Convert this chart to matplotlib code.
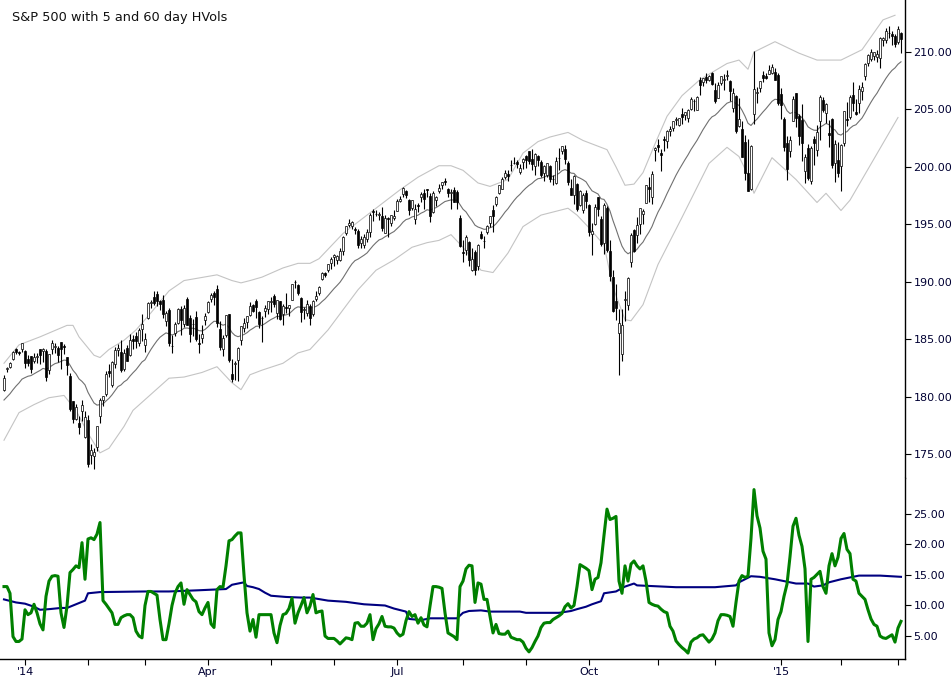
import matplotlib
matplotlib.use("Agg")
import matplotlib.pyplot as plt
import numpy as np
import pandas as pd

# trading days shown (Dec 20 2013 .. Mar 3 2015)
holidays = ["2013-12-25", "2014-01-01", "2014-01-20", "2014-02-17", "2014-04-18",
            "2014-05-26", "2014-07-04", "2014-09-01", "2014-11-27", "2014-12-25",
            "2015-01-01", "2015-01-19", "2015-02-16"]
dates = pd.bdate_range("2013-12-20", "2015-03-03", freq="C", holidays=holidays)

# daily OHLC, one line per month
opens = [
    180.6, 182.4, 182.6, 183.3, 184.1, 183.9, 184.1,
    183.98, 183.23, 183.49, 183.09, 183.45, 184.10, 183.95, 183.96, 182.31, 184.10, 184.28, 184.26, 184.71, 184.37, 183.41, 181.81, 179.61, 178.05, 177.69, 178.76, 176.44,
    177.97, 174.94, 174.79, 175.60, 178.31, 179.70, 180.20, 182.21, 180.97, 182.86, 184.09, 183.90, 182.38, 184.25, 183.65, 185.05, 185.27, 184.68, 185.91,
    184.49, 186.84, 188.18, 188.69, 188.92, 188.30, 188.40, 186.59, 187.52, 184.39, 185.51, 186.44, 187.60, 186.28, 188.51, 186.85, 186.29, 186.90, 184.65, 185.14, 186.67,
    187.36, 188.52, 189.01, 189.38, 185.90, 184.12, 185.39, 187.16, 181.96, 182.85, 183.21, 184.93, 185.97, 186.47, 187.14, 187.96, 188.32, 187.37, 186.82, 187.48, 187.62,
    188.22, 188.79, 187.26, 188.30, 187.20, 187.79, 187.71, 188.45, 189.94, 189.73, 188.60, 187.51, 187.24, 187.89, 187.15, 188.52, 188.98, 190.26, 190.73, 191.04, 191.62,
    192.14, 191.85, 191.93, 192.68, 194.27, 194.94, 194.87, 194.60, 194.43, 193.36, 193.18, 193.74, 194.34, 196.20, 195.89, 195.84, 195.72, 194.28, 195.52, 195.11, 195.59,
    196.20, 197.05, 197.63, 197.94, 197.15, 196.45, 195.43, 196.63, 197.37, 197.74, 198.10, 197.46, 196.09, 197.12, 197.91, 198.38, 198.78, 198.05, 197.74, 198.02, 197.84, 195.51,
    192.58, 192.76, 193.42, 191.02, 192.61, 191.40, 194.13, 193.56, 194.29, 195.11, 196.24, 196.77, 197.76, 198.10, 199.09, 199.34, 200.14, 200.33, 200.43, 199.59, 200.45,
    200.97, 201.38, 200.66, 200.11, 200.97, 200.45, 199.43, 199.27, 200.10, 198.97, 198.61, 200.77, 201.36, 201.52, 200.35, 198.16, 197.52, 198.52, 196.71, 196.21, 197.74,
    196.70, 194.19, 195.06, 197.36, 195.47, 193.35, 196.39, 192.68, 190.40, 188.33, 185.57, 183.69, 188.40, 187.96, 191.68, 194.48, 194.11, 195.02, 195.89, 196.89, 198.24, 197.39, 201.47,
    201.92, 201.24, 202.45, 202.22, 203.10, 203.38, 204.04, 203.62, 204.60, 204.48, 204.22, 205.00, 205.76, 204.97, 207.59, 207.43, 207.85, 207.58, 208.15,
    206.73, 206.00, 207.32, 207.54, 207.87, 207.50, 205.11, 206.19, 203.56, 203.29, 202.18, 199.43, 198.08, 204.60, 206.45, 206.88, 208.01, 207.88, 208.12, 208.17, 208.23, 207.99,
    206.38, 204.17, 202.09, 201.42, 204.01, 206.40, 204.41, 204.12, 199.65, 201.63, 198.77, 202.40, 201.50, 203.99, 205.79, 204.71, 202.97, 204.17, 200.38, 200.57,
    200.05, 202.05, 204.13, 204.33, 206.27, 204.80, 205.60, 206.59, 207.90, 209.08, 209.40, 209.64, 209.58, 209.48, 211.03, 211.02, 211.66, 211.60, 211.38, 210.83, 211.69,
]
highs = [
    181.9, 182.6, 183.0, 184.0, 184.2, 184.0, 184.7,
    184.07, 183.60, 183.56, 183.79, 183.83, 184.13, 184.22, 184.18, 183.72, 184.94, 184.66, 184.44, 184.77, 184.58, 183.41, 182.05, 179.65, 179.31, 178.28, 179.73, 178.71,
    178.37, 175.84, 175.56, 177.48, 179.87, 180.07, 182.19, 182.83, 183.13, 184.29, 184.56, 184.95, 184.13, 184.48, 185.44, 185.38, 185.60, 185.96, 187.16,
    185.51, 188.20, 188.45, 189.18, 189.23, 188.43, 188.81, 187.43, 187.67, 185.33, 186.52, 187.75, 187.90, 188.00, 188.70, 187.12, 186.76, 187.44, 185.45, 186.27, 187.31,
    188.30, 189.02, 189.22, 189.70, 186.59, 185.32, 187.12, 187.20, 183.23, 183.14, 184.35, 186.15, 186.85, 187.04, 188.20, 188.04, 188.52, 187.47, 187.00, 187.96, 188.34,
    188.68, 188.97, 188.44, 188.36, 188.05, 189.00, 188.01, 189.81, 190.11, 189.79, 188.66, 187.83, 188.41, 188.09, 188.42, 189.20, 189.60, 190.81, 190.86, 191.58, 192.15,
    192.40, 192.31, 192.91, 194.00, 194.89, 195.43, 195.26, 194.78, 194.59, 193.94, 194.16, 194.62, 196.00, 196.30, 196.24, 196.03, 196.53, 195.79, 195.60, 195.81, 196.25,
    197.24, 197.45, 198.29, 198.01, 197.22, 197.15, 196.81, 196.88, 197.81, 198.10, 198.11, 197.70, 197.87, 197.43, 198.50, 198.71, 198.99, 198.18, 198.10, 198.21, 198.00, 195.80,
    193.60, 194.07, 193.52, 192.90, 192.73, 193.30, 194.43, 193.97, 194.96, 195.76, 196.71, 197.45, 198.39, 199.16, 199.76, 199.69, 200.59, 200.82, 200.57, 200.27, 200.73,
    201.00, 201.41, 201.56, 201.24, 201.01, 200.60, 200.20, 200.33, 200.13, 199.32, 200.84, 201.68, 201.85, 201.90, 200.48, 198.97, 199.25, 198.56, 198.02, 197.70, 198.01,
    196.75, 195.07, 196.74, 197.42, 195.74, 196.88, 196.59, 193.64, 191.00, 189.76, 187.64, 187.59, 189.21, 190.43, 194.20, 194.58, 195.64, 196.44, 196.30, 198.46, 199.09, 199.68, 201.75,
    202.45, 201.59, 202.65, 203.20, 203.58, 204.03, 204.31, 204.25, 205.10, 204.82, 205.06, 206.07, 205.88, 206.15, 207.86, 207.77, 208.14, 208.04, 208.26,
    207.29, 207.36, 207.93, 208.11, 208.47, 207.59, 206.90, 206.29, 206.04, 203.97, 202.78, 202.43, 201.90, 210.10, 206.93, 207.47, 208.33, 208.19, 208.85, 208.97, 208.61, 208.19,
    206.88, 204.37, 202.72, 202.72, 206.16, 206.42, 204.60, 205.48, 201.10, 202.01, 201.82, 202.72, 203.66, 206.26, 206.10, 205.56, 204.12, 204.29, 202.30, 202.17,
    202.03, 204.85, 205.62, 206.30, 207.35, 205.89, 207.12, 207.37, 209.04, 209.84, 210.28, 210.04, 210.20, 211.33, 211.35, 212.05, 212.24, 211.86, 211.58, 212.24, 211.77,
]
lows = [
    180.5, 182.1, 182.5, 183.2, 183.7, 183.6, 183.9,
    182.48, 182.63, 182.08, 182.95, 182.89, 182.80, 183.01, 181.34, 181.99, 183.73, 183.83, 183.00, 182.36, 183.68, 181.84, 178.71, 177.66, 177.96, 176.77, 177.90, 176.36,
    173.83, 174.11, 173.71, 175.22, 177.73, 179.21, 180.04, 181.71, 180.85, 182.48, 183.51, 182.15, 182.22, 183.08, 183.50, 184.16, 184.23, 184.37, 184.84,
    183.86, 186.78, 187.73, 188.00, 187.87, 187.52, 186.82, 186.13, 184.36, 183.77, 185.29, 186.34, 185.38, 186.04, 186.20, 184.73, 185.25, 184.87, 183.83, 184.70, 186.27,
    187.32, 188.22, 187.94, 186.05, 184.04, 183.56, 185.17, 182.98, 181.31, 181.44, 181.34, 184.48, 185.64, 185.93, 187.05, 187.35, 186.82, 185.95, 184.71, 186.97, 187.15,
    187.39, 187.76, 186.78, 186.69, 186.25, 187.25, 186.98, 188.43, 189.47, 188.81, 186.53, 186.77, 186.99, 186.20, 187.03, 188.34, 188.86, 190.13, 190.43, 190.86, 191.13,
    191.40, 191.55, 191.77, 192.30, 194.04, 194.78, 194.61, 194.16, 192.91, 192.94, 192.91, 193.43, 193.87, 195.28, 195.71, 195.34, 194.38, 194.25, 193.87, 194.87, 195.38,
    196.13, 196.93, 197.36, 197.30, 195.85, 196.26, 195.06, 196.11, 196.96, 196.34, 197.41, 195.18, 195.95, 196.56, 197.71, 198.09, 198.44, 197.38, 196.36, 196.92, 196.31, 193.00,
    191.70, 192.30, 191.39, 190.93, 190.57, 191.00, 193.70, 192.93, 194.13, 194.74, 194.37, 196.62, 197.61, 198.08, 198.93, 198.74, 199.66, 200.28, 199.94, 199.39, 199.82,
    199.86, 200.22, 199.75, 199.29, 200.11, 199.15, 198.77, 199.12, 198.65, 198.38, 198.50, 199.75, 201.10, 200.29, 198.39, 197.52, 196.80, 196.17, 196.63, 195.99, 196.44,
    193.94, 192.35, 194.93, 195.68, 193.15, 192.42, 192.62, 190.05, 187.36, 186.65, 181.92, 183.13, 186.58, 187.57, 191.31, 192.62, 193.39, 194.16, 195.03, 196.88, 196.93, 196.76, 200.52,
    201.29, 199.66, 201.34, 201.66, 202.67, 203.13, 203.64, 203.56, 203.71, 204.04, 203.94, 204.95, 204.89, 204.94, 206.23, 207.08, 207.31, 207.48, 207.09,
    205.56, 205.96, 207.12, 206.71, 207.55, 205.76, 204.74, 202.98, 203.43, 200.87, 198.82, 197.86, 197.99, 203.75, 205.59, 206.55, 207.38, 207.68, 208.09, 208.09, 207.53, 205.39,
    204.18, 201.35, 198.86, 200.88, 203.99, 203.51, 201.92, 200.51, 198.57, 198.88, 198.55, 200.17, 200.94, 202.33, 204.81, 203.85, 201.74, 199.91, 198.68, 199.13,
    197.86, 201.83, 203.55, 204.16, 204.90, 204.49, 204.67, 205.86, 207.54, 208.76, 209.23, 209.30, 209.14, 208.64, 210.56, 210.80, 211.26, 210.61, 210.46, 210.70, 209.90,
]
closes = [
    181.6, 182.5, 182.9, 183.9, 183.9, 183.8, 184.7,
    182.92, 182.89, 182.36, 183.48, 183.52, 183.64, 184.14, 181.69, 183.67, 184.66, 184.42, 183.64, 184.18, 184.30, 182.79, 178.89, 178.01, 179.07, 177.35, 179.23, 178.18,
    174.17, 175.39, 175.17, 177.48, 179.68, 180.01, 181.98, 182.07, 183.01, 184.02, 184.24, 182.35, 183.82, 183.08, 184.91, 184.84, 184.85, 185.82, 186.29,
    184.98, 188.18, 188.26, 188.16, 188.32, 188.06, 187.23, 187.28, 184.66, 184.42, 186.33, 187.66, 186.66, 187.75, 186.20, 185.43, 186.31, 184.97, 184.58, 185.49, 187.01,
    188.25, 188.88, 188.63, 186.40, 184.34, 185.10, 187.09, 183.16, 181.51, 182.94, 184.20, 186.13, 186.39, 187.04, 187.89, 187.45, 187.83, 186.29, 186.88, 187.75, 188.31,
    188.33, 188.06, 188.42, 186.78, 187.88, 187.68, 187.96, 189.79, 189.96, 189.06, 187.40, 187.66, 188.05, 186.80, 188.32, 188.75, 189.58, 190.72, 190.60, 191.55, 192.00,
    192.30, 192.23, 192.67, 193.92, 194.84, 195.14, 195.19, 194.49, 193.18, 193.76, 193.92, 194.36, 195.85, 196.10, 195.94, 195.88, 194.70, 195.58, 195.44, 195.82, 195.72,
    197.03, 197.23, 198.20, 197.51, 196.24, 197.12, 196.34, 196.61, 197.60, 197.23, 197.96, 195.71, 197.71, 197.34, 198.20, 198.64, 198.65, 197.72, 197.80, 196.95, 196.98, 193.09,
    192.50, 193.89, 191.90, 191.99, 191.03, 193.24, 193.80, 193.53, 194.84, 195.76, 195.72, 197.36, 198.39, 198.92, 199.50, 199.19, 200.20, 200.33, 200.25, 199.90, 200.71,
    200.61, 200.50, 200.21, 201.11, 200.59, 199.32, 200.07, 200.30, 198.98, 198.92, 200.48, 200.75, 201.82, 200.70, 198.70, 197.54, 199.19, 196.34, 197.90, 197.54, 197.02,
    194.35, 194.38, 196.52, 196.29, 193.26, 196.64, 192.74, 190.54, 187.41, 187.70, 186.43, 186.27, 188.47, 190.30, 194.07, 192.69, 194.93, 196.43, 196.16, 198.41, 198.11, 199.38, 201.66,
    201.77, 201.07, 202.34, 203.15, 203.34, 203.98, 204.18, 204.24, 204.37, 204.82, 204.97, 205.94, 205.71, 206.09, 207.14, 207.73, 207.60, 207.90, 207.20,
    205.76, 207.09, 207.89, 207.66, 208.00, 206.61, 206.47, 203.16, 204.19, 200.89, 199.51, 197.91, 201.79, 206.78, 206.52, 207.47, 207.75, 207.77, 208.44, 208.72, 207.60, 205.54,
    205.43, 201.72, 199.82, 202.31, 205.90, 204.25, 202.65, 202.08, 200.86, 199.02, 201.63, 202.06, 203.08, 206.10, 204.97, 205.45, 202.74, 200.14, 201.99, 199.45,
    201.92, 204.84, 204.06, 206.12, 205.55, 204.63, 206.81, 206.93, 208.92, 209.78, 209.98, 210.01, 209.85, 211.24, 211.21, 211.81, 211.63, 211.38, 210.66, 211.99, 211.12,
]

# channel lines (trading-day number, price)
upper_day = [0, 5, 12, 21, 23, 25, 30, 32, 35, 40, 44, 49, 55, 60, 71, 76, 79, 82, 86, 93,
             98, 102, 105, 113, 121, 132, 138, 145, 149, 153, 158, 162, 168, 173, 178, 182, 188, 193, 197, 201,
             204, 207, 210, 213, 217, 221, 226, 232, 241, 245, 248, 250, 257, 265, 271, 279, 286, 293, 297]
upper_val = [182.9, 184.5, 185.2, 186.2, 186.2, 185.2, 183.6, 183.4, 184.1, 184.9, 185.8, 187.3, 189.2, 190.1, 190.6, 190.1, 189.9, 190.1, 190.4, 191.2,
             191.6, 191.6, 192.0, 194.2, 195.8, 198.0, 199.1, 200.1, 200.1, 199.7, 198.6, 198.3, 198.9, 201.2, 202.2, 202.6, 203.0, 202.3, 201.9, 201.5,
             200.0, 198.4, 198.5, 199.5, 202.0, 204.4, 206.2, 207.6, 209.0, 209.3, 208.5, 210.0, 210.9, 209.9, 209.3, 209.3, 210.2, 212.8, 213.2]
lower_day = [0, 5, 10, 15, 20, 24, 28, 32, 35, 40, 43, 49, 55, 60, 66, 71, 76, 79, 82, 86,
             93, 98, 102, 108, 118, 124, 130, 136, 141, 145, 149, 153, 159, 163, 168, 173, 179, 185, 188, 191,
             195, 200, 203, 207, 209, 213, 218, 226, 235, 241, 245, 248, 250, 256, 264, 271, 274, 279, 282, 298]
lower_val = [176.2, 178.6, 179.3, 179.9, 180.1, 178.8, 176.8, 175.1, 175.5, 177.4, 178.8, 180.2, 181.6, 181.7, 182.1, 182.6, 181.2, 180.6, 181.9, 182.3,
             182.9, 183.8, 184.1, 185.8, 189.3, 191.0, 191.9, 193.0, 193.4, 193.6, 194.1, 193.0, 191.0, 190.8, 192.5, 194.8, 195.8, 196.2, 196.4, 195.8,
             194.7, 193.2, 189.5, 186.7, 186.6, 188.0, 191.5, 195.6, 200.3, 201.7, 200.9, 199.3, 197.7, 200.8, 198.9, 196.9, 197.7, 196.2, 197.1, 204.3]

# 5 day historical volatility, one value per trading day
hv5 = [
    13.1, 13.1, 12.0, 4.9, 4.1, 4.1, 4.5, 9.3, 8.5, 8.8,
    10.2, 8.8, 7.0, 6.0, 11.5, 14.0, 14.8, 14.9, 14.8, 8.8,
    6.4, 9.9, 15.4, 15.9, 16.5, 16.2, 20.3, 14.3, 20.9, 21.1,
    20.8, 21.7, 23.6, 10.8, 10.2, 9.5, 8.8, 6.9, 6.9, 8.0,
    8.3, 8.5, 8.5, 8.0, 5.8, 5.0, 4.7, 10.0, 12.3, 12.3,
    12.0, 11.7, 7.7, 4.4, 4.4, 7.0, 10.0, 12.0, 13.1, 13.7,
    10.2, 12.6, 11.8, 11.0, 10.6, 9.0, 8.5, 9.6, 10.5, 7.0,
    6.4, 12.6, 13.1, 13.0, 16.5, 20.6, 20.8, 21.4, 21.9, 21.9,
    15.0, 8.8, 5.8, 7.7, 4.8, 8.5, 8.5, 8.5, 8.5, 8.5,
    5.5, 3.9, 6.7, 8.5, 8.7, 9.5, 11.2, 7.1, 8.8, 10.0,
    11.3, 8.8, 9.9, 11.8, 8.8, 9.0, 9.1, 5.0, 4.6, 4.6,
    4.6, 4.2, 3.7, 4.2, 4.7, 4.6, 4.4, 7.1, 7.2, 6.6,
    6.6, 7.1, 8.5, 4.4, 6.2, 7.0, 8.2, 6.6, 6.5, 6.5,
    6.3, 5.5, 5.0, 5.3, 7.5, 9.0, 8.2, 8.5, 7.1, 8.0,
    6.8, 6.5, 9.9, 13.1, 13.1, 13.0, 12.8, 8.8, 5.5, 5.2,
    4.9, 4.4, 13.1, 14.0, 16.0, 16.6, 16.5, 10.5, 13.7, 13.5,
    11.0, 11.0, 8.2, 5.5, 6.9, 5.4, 5.3, 5.3, 5.8, 4.8,
    4.6, 4.4, 4.4, 4.0, 3.0, 2.4, 3.1, 4.1, 5.0, 6.4,
    7.1, 7.2, 7.2, 7.7, 8.0, 8.3, 8.7, 9.8, 10.3, 9.6,
    10.0, 13.1, 16.7, 16.4, 16.1, 15.7, 12.6, 14.3, 14.6, 17.0,
    21.5, 25.8, 24.1, 24.3, 24.6, 14.0, 12.0, 16.5, 14.0, 16.8,
    17.3, 16.5, 16.0, 16.5, 14.0, 10.5, 10.2, 10.0, 9.9, 9.4,
    9.0, 8.8, 6.6, 5.8, 4.2, 3.6, 3.1, 2.7, 2.2, 4.0,
    4.5, 4.7, 5.1, 5.2, 4.6, 4.0, 4.5, 5.5, 7.5, 8.5,
    8.5, 8.4, 8.2, 6.6, 10.5, 14.0, 14.9, 14.6, 14.8, 21.0,
    29.0, 24.7, 22.7, 18.9, 17.6, 5.5, 3.4, 4.4, 7.7, 9.0,
    11.5, 13.5, 18.0, 23.0, 24.3, 21.5, 19.7, 16.0, 4.1, 14.3,
    14.6, 15.1, 15.6, 13.1, 12.0, 16.5, 18.5, 16.5, 17.9, 21.0,
    21.8, 19.2, 18.5, 14.3, 14.0, 12.0, 11.5, 11.0, 9.3, 7.8,
    6.9, 6.6, 5.0, 4.7, 4.6, 4.9, 5.2, 4.0, 6.3, 7.4,
]

# 60 day historical volatility, read at the trading days where it turns
hv60_day = [0, 4, 7, 10, 12, 15, 19, 21, 23, 25, 27, 28, 30, 32, 47, 55, 65, 74, 76, 80,
            81, 83, 85, 87, 89, 94, 99, 102, 108, 114, 120, 127, 130, 134, 135, 139, 142, 151, 153, 155,
            159, 162, 172, 174, 185, 189, 191, 194, 196, 199, 200, 204, 207, 210, 211, 224, 237, 244, 245, 249,
            252, 257, 260, 264, 268, 270, 273, 275, 279, 282, 285, 292, 299]
hv60 = [11.0, 10.5, 10.3, 9.8, 9.3, 9.4, 9.6, 9.6, 10.0, 10.4, 10.8, 12.0, 12.1, 12.2, 12.3, 12.3, 12.5, 12.7, 13.4, 13.8,
        13.2, 13.0, 12.7, 12.1, 11.6, 11.4, 11.3, 11.3, 10.8, 10.6, 10.2, 10.0, 9.5, 9.0, 7.8, 7.6, 7.9, 7.9, 8.8, 9.1,
        9.2, 9.0, 9.0, 8.8, 8.8, 9.1, 9.4, 9.8, 10.2, 10.7, 12.0, 12.3, 13.1, 13.6, 13.3, 13.0, 13.0, 13.3, 13.8, 14.8,
        14.7, 14.3, 14.0, 13.6, 13.6, 13.1, 13.3, 13.8, 14.3, 14.6, 14.9, 14.9, 14.7]

assert len(opens) == len(highs) == len(lows) == len(closes) == len(hv5) == len(dates)
assert len(hv60_day) == len(hv60)
assert len(upper_day) == len(upper_val) and len(lower_day) == len(lower_val)

o = np.array(opens)
h = np.array(highs)
l = np.array(lows)
c = np.array(closes)
x = np.arange(len(c))

# centre line: 20 day EMA of the closes, seeded with the value at the left edge
alpha = 2 / 21
mid = np.zeros(len(c))
mid[0] = 179.7
for i in range(1, len(c)):
    mid[i] = mid[i - 1] + alpha * (c[i] - mid[i - 1])

W, H = 952, 682
fig = plt.figure(figsize=(W / 100, H / 100), dpi=100)
ax = fig.add_axes([0, 1 - 478 / H, 905 / W, 478 / H])
axv = fig.add_axes([0, 1 - 659 / H, 905 / W, (659 - 478) / H], sharex=ax)

label_color = "#000033"

# price panel
ax.plot(upper_day, upper_val, color="#c4c4c4", lw=0.8, zorder=1)
ax.plot(lower_day, lower_val, color="#c4c4c4", lw=0.8, zorder=1)
ax.plot(x, mid, color="#707070", lw=0.8, zorder=1)
ax.vlines(x, l, h, color="black", lw=0.8, zorder=2)
up = c >= o
body_lo = np.minimum(o, c)
body_h = np.maximum(np.abs(c - o), 0.03)
ax.bar(x, body_h, bottom=body_lo, width=0.62,
       color=np.where(up, "white", "black"), edgecolor="black", linewidth=0.5, zorder=3)

ax.set_xlim(-4 / 3, 901 / 3)
ax.set_ylim(172.91, 214.53)
ax.set_yticks(np.arange(175, 211, 5))
ax.yaxis.set_major_formatter(matplotlib.ticker.FormatStrFormatter("%.2f"))
ax.yaxis.tick_right()
ax.tick_params(axis="y", direction="out", length=4, width=0.8, pad=2,
               labelsize=8, labelcolor=label_color)
ax.tick_params(axis="x", bottom=False, labelbottom=False)
for side in ["top", "left", "bottom"]:
    ax.spines[side].set_visible(False)
ax.spines["right"].set_linewidth(1.0)

# volatility panel
axv.plot(hv60_day, hv60, color="#000080", lw=1.5, zorder=2)
axv.plot(x, hv5, color="#008000", lw=2.2, zorder=3)
axv.set_ylim(1.23, 30.9)
axv.set_yticks([5, 10, 15, 20, 25])
axv.yaxis.set_major_formatter(matplotlib.ticker.FormatStrFormatter("%.2f"))
axv.yaxis.tick_right()
axv.tick_params(axis="y", direction="out", length=4, width=0.8, pad=2,
                labelsize=8, labelcolor=label_color)
for side in ["top", "left"]:
    axv.spines[side].set_visible(False)
axv.spines["right"].set_linewidth(1.0)
axv.spines["bottom"].set_linewidth(1.0)

# month ticks, labels on quarters
month_start = []
month_label = []
for i in range(1, len(dates)):
    if dates[i].month != dates[i - 1].month:
        month_start.append(i)
        m = dates[i].month
        if m == 1:
            month_label.append("'" + dates[i].strftime("%y"))
        elif m in (4, 7, 10):
            month_label.append(dates[i].strftime("%b"))
        else:
            month_label.append("")
axv.set_xticks(month_start)
axv.set_xticklabels(month_label)
axv.tick_params(axis="x", direction="out", length=4, width=0.8, pad=2,
                labelsize=8, labelcolor=label_color)

fig.text(12 / W, 1 - 18 / H, "S&P 500 with 5 and 60 day HVols", fontsize=9.3,
         va="center", ha="left", color="#111111")

fig.savefig("out.png", dpi=100)
